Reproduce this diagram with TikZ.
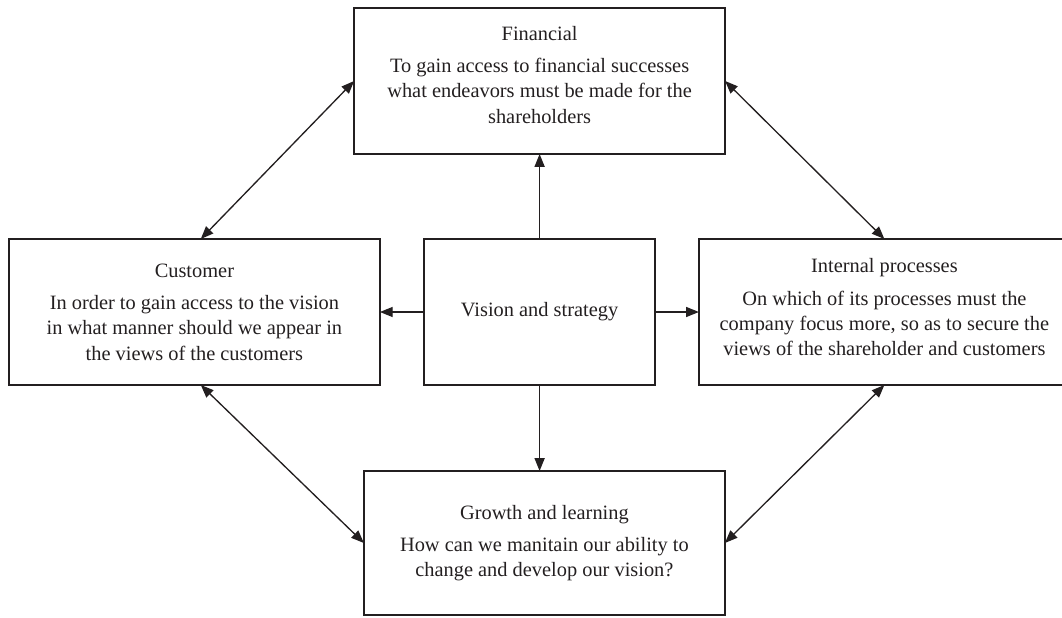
\documentclass[tikz,border=0pt]{standalone}
\usepackage{fontspec}
\setmainfont{Liberation Serif}
\usetikzlibrary{arrows.meta}
\definecolor{ink}{HTML}{231F20}

\tikzset{
  box/.style={draw=ink, line width=1pt, minimum width=9.275cm, minimum height=3.65cm,
    align=center, inner sep=0pt, outer sep=0pt, text=ink, font=\fontsize{14.5}{18}\selectfont},
  link/.style={draw=ink, line width=0.95pt, -{Triangle[length=0.32cm,width=0.25cm]}},
  twoway/.style={link, {Triangle[length=0.32cm,width=0.25cm]}-{Triangle[length=0.32cm,width=0.25cm]}}
}

\begin{document}
\begin{tikzpicture}
        \useasboundingbox (0,0) rectangle (26.55,-15.45);

        % the four views round the middle box
        \node[box] (fin) at (13.49,-2.025) {Financial\\[5pt]To gain access to financial successes\\what endeavors must be made for the\\shareholders\\[-9pt]};
        \node[box] (cust) at (4.86,-7.8) {Customer\\[5pt]In order to gain access to the vision\\in what manner should we appear in\\the views of the customers};
        \node[box, minimum width=5.775cm] (vis) at (13.49,-7.8) {Vision and strategy};
        \node[box] (int) at (22.11,-7.8) {Internal processes\\[5pt]On which of its processes must the\\company focus more, so as to secure the\\views of the shareholder and customers\\[-11pt]};
        \node[box, minimum width=9.025cm, minimum height=3.6cm] (grow) at (13.61,-13.575) {Growth and learning\\[5pt]How can we manitain our ability to\\change and develop our vision?};

        % from the middle outwards
        \draw[link] (vis) -- (fin);
        \draw[link] (vis) -- (cust);
        \draw[link] (vis) -- (int);
        \draw[link] (vis.south) -- (vis.south |- grow.north);

        % round the edge
        \draw[twoway] ([xshift=0.16cm]cust.north) -- (fin.west);
        \draw[twoway] (fin.east) -- (int.north);
        \draw[twoway] ([xshift=0.16cm]cust.south) -- (grow.west);
        \draw[twoway] (int.south) -- (grow.east);
      \end{tikzpicture}
\end{document}
